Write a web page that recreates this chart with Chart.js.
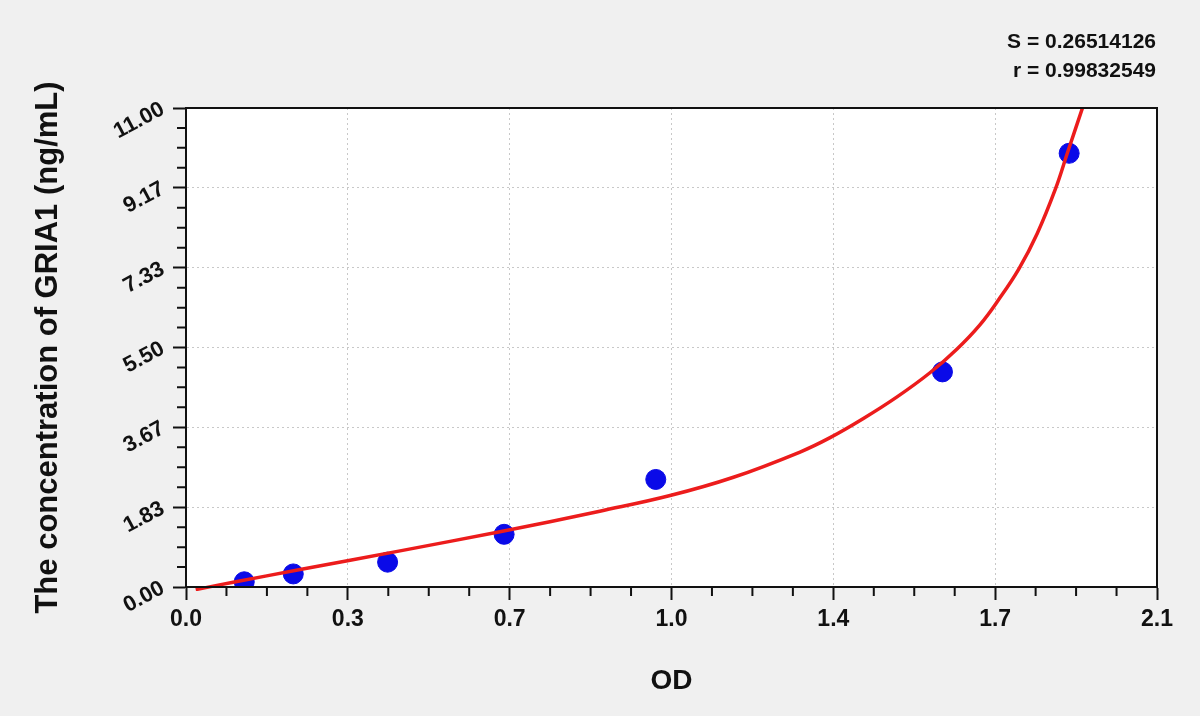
<!DOCTYPE html>
<html>
<head>
<meta charset="utf-8">
<title>GRIA1 standard curve</title>
<script src="https://cdn.jsdelivr.net/npm/chart.js@4/dist/chart.umd.min.js"></script>
<style>
  html, body { margin: 0; padding: 0; background: #f0f0f0; }
  #wrap { position: relative; width: 1200px; height: 716px; }
</style>
</head>
<body>
<div id="wrap"><canvas id="chart"></canvas></div>
<script>
// ── Data ──────────────────────────────────────────────────────────────────

const OD_POINTS   = [0.126, 0.232, 0.436, 0.688, 1.016, 1.636, 1.910];
const CONC_POINTS = [0.12, 0.30, 0.57, 1.21, 2.47, 4.94, 9.96];

// fitted curve, sampled from the red line
const CURVE_OD   = [0.021, 0.102, 0.247, 0.463, 0.679, 0.787, 0.895, 1.047, 1.184, 1.328, 1.393,
                    1.465, 1.537, 1.609, 1.667, 1.717, 1.757, 1.801, 1.841, 1.881, 1.906, 1.941];
const CURVE_CONC = [-0.06, 0.11, 0.40, 0.83, 1.27, 1.50, 1.74, 2.10, 2.52, 3.10, 3.43,
                    3.87, 4.36, 4.92, 5.46, 6.02, 6.59, 7.30, 8.12, 9.16, 9.96, 11.07];

const X_TICKS  = [0, 0.35, 0.7, 1.05, 1.4, 1.75, 2.1];
const X_LABELS = ['0.0', '0.3', '0.7', '1.0', '1.4', '1.7', '2.1'];
const Y_TICKS  = [0, 1.83, 3.67, 5.5, 7.33, 9.17, 11];
const Y_LABELS = ['0.00', '1.83', '3.67', '5.50', '7.33', '9.17', '11.00'];

const FIT_TEXT = ['S = 0.26514126', 'r = 0.99832549'];

// ── Style ─────────────────────────────────────────────────────────────────

const FONT  = '"Liberation Sans", Arial, sans-serif';
const INK   = '#111111';
const GRID  = '#c8c8c8';
const RED   = '#ec1c1c';
const BLUE  = '#0a0ae8';

Chart.defaults.font.family = FONT;
Chart.defaults.color = INK;

// ── Plugins: backdrop, frame + minor ticks, fit statistics ────────────────

const backdrop = {
  id: 'backdrop',
  beforeDraw(chart) {
    const { ctx, chartArea: a, width, height } = chart;
    ctx.save();
    ctx.fillStyle = '#f0f0f0';
    ctx.fillRect(0, 0, width, height);
    ctx.fillStyle = '#ffffff';
    ctx.fillRect(a.left, a.top, a.right - a.left, a.bottom - a.top);
    ctx.restore();
  },
};

const frame = {
  id: 'frame',
  afterDatasetsDraw(chart) {
    const { ctx, chartArea: a, scales: { x, y } } = chart;
    ctx.save();
    ctx.strokeStyle = INK;
    ctx.lineWidth = 2;
    ctx.strokeRect(a.left, a.top, a.right - a.left, a.bottom - a.top);

    // 3 minor ticks between each pair of major ticks
    ctx.beginPath();
    for (let i = 0; i < X_TICKS.length - 1; i++) {
      for (let k = 1; k < 4; k++) {
        const px = x.getPixelForValue(X_TICKS[i] + (X_TICKS[i + 1] - X_TICKS[i]) * k / 4);
        ctx.moveTo(px, a.bottom);
        ctx.lineTo(px, a.bottom + 9);
      }
    }
    for (let i = 0; i < Y_TICKS.length - 1; i++) {
      for (let k = 1; k < 4; k++) {
        const py = y.getPixelForValue(Y_TICKS[i] + (Y_TICKS[i + 1] - Y_TICKS[i]) * k / 4);
        ctx.moveTo(a.left, py);
        ctx.lineTo(a.left - 9, py);
      }
    }
    ctx.stroke();
    ctx.restore();
  },
};

const fitStats = {
  id: 'fitStats',
  afterDraw(chart) {
    const { ctx } = chart;
    ctx.save();
    ctx.font = `bold 21px ${FONT}`;
    ctx.fillStyle = INK;
    ctx.textAlign = 'right';
    ctx.textBaseline = 'alphabetic';
    ctx.fillText(FIT_TEXT[0], 1156, 48);
    ctx.fillText(FIT_TEXT[1], 1156, 77);
    ctx.restore();
  },
};

// ── Chart ─────────────────────────────────────────────────────────────────

new Chart(document.getElementById('chart'), {
  type: 'scatter',
  data: {
    datasets: [
      {
        type: 'line',
        data: CURVE_OD.map((v, i) => ({ x: v, y: CURVE_CONC[i] })),
        borderColor: RED,
        borderWidth: 3.5,
        pointRadius: 0,
        tension: 0.4,
        clip: { left: 0, top: 0, right: 0, bottom: 4 },
        order: 0,
      },
      {
        data: OD_POINTS.map((v, i) => ({ x: v, y: CONC_POINTS[i] })),
        backgroundColor: BLUE,
        borderColor: BLUE,
        pointRadius: 10,
        clip: 0,
        order: 1,
      },
    ],
  },
  options: {
    responsive: true,
    maintainAspectRatio: false,
    animation: false,
    layout: { autoPadding: false, padding: { top: 108, right: 43, left: 0, bottom: 0 } },
    plugins: {
      legend: { display: false },
      tooltip: { enabled: false },
    },
    scales: {
      x: {
        type: 'linear',
        min: 0,
        max: 2.1,
        afterBuildTicks: s => { s.ticks = X_TICKS.map(v => ({ value: v })); },
        afterFit: s => { s.height = 129; },
        grid: { color: GRID, lineWidth: 1, tickColor: INK, tickWidth: 2, tickLength: 13, tickBorderDash: [] },
        border: { color: INK, width: 2, dash: [2, 3] },
        ticks: {
          padding: 6,
          color: INK,
          font: { size: 23, weight: 'bold' },
          maxRotation: 0,
          callback: (_, i) => X_LABELS[i],
        },
        title: {
          display: true,
          text: 'OD',
          color: INK,
          font: { size: 28, weight: 'bold' },
          padding: { top: 0, bottom: 18 },
        },
      },
      y: {
        type: 'linear',
        min: 0,
        max: 11,
        afterBuildTicks: s => { s.ticks = Y_TICKS.map(v => ({ value: v })); },
        afterFit: s => { s.width = 186; },
        grid: { color: GRID, lineWidth: 1, tickColor: INK, tickWidth: 2, tickLength: 13, tickBorderDash: [] },
        border: { color: INK, width: 2, dash: [2, 3] },
        ticks: {
          padding: 10,
          color: INK,
          font: { size: 22, weight: 'bold' },
          minRotation: 28,
          maxRotation: 28,
          callback: (_, i) => Y_LABELS[i],
        },
        title: {
          display: true,
          text: 'The concentration of GRIA1 (ng/mL)',
          color: INK,
          font: { size: 31, weight: 'bold' },
          padding: { top: 30, bottom: 0 },
        },
      },
    },
  },
  plugins: [backdrop, frame, fitStats],
});
</script>
</body>
</html>
